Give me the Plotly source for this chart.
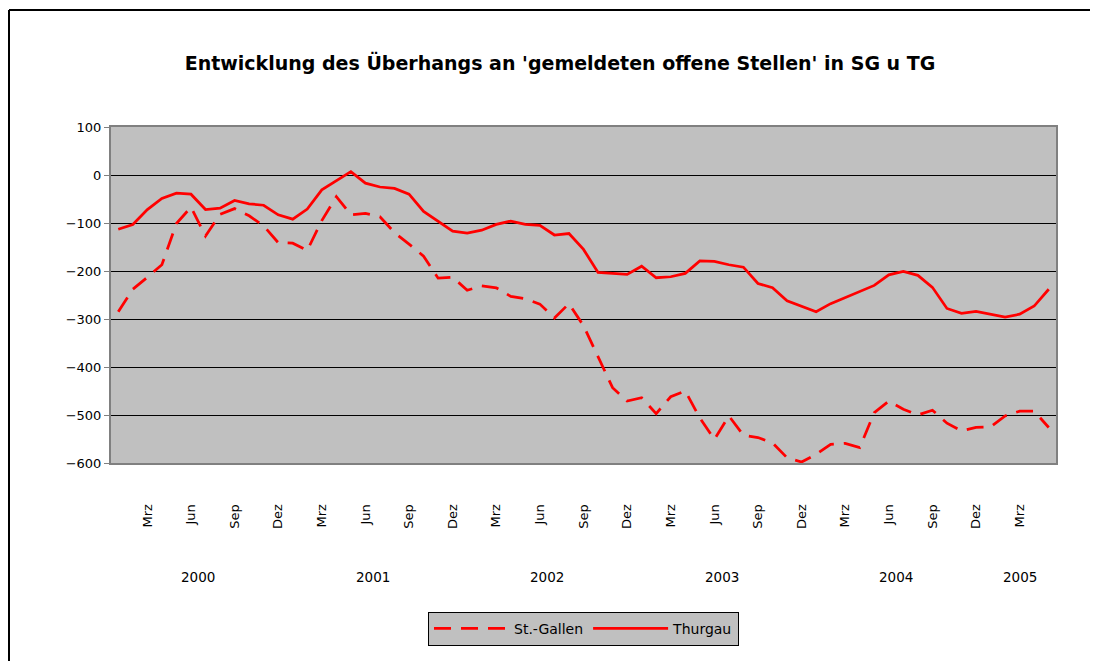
import plotly.graph_objects as go

# ---- data ----
years = [2000, 2001, 2002, 2003, 2004, 2005]
month_names = ["Jan", "Feb", "Mrz", "Apr", "Mai", "Jun", "Jul", "Aug", "Sep", "Okt", "Nov", "Dez"]
tick_months = ["Mrz", "Jun", "Sep", "Dez"]
n_months_last_year = 5

st_gallen = [-285, -238, -213, -187, -101, -67, -127, -82, -70, -85, -106, -141,
             -142, -157, -95, -45, -83, -80, -87, -120, -144, -169, -215, -213,
             -240, -231, -235, -253, -258, -269, -298, -268, -314, -377, -443, -471,
             -464, -497, -462, -450, -506, -551, -502, -542, -547, -558, -589, -598,
             -582, -561, -559, -568, -495, -471, -488, -500, -490, -517, -533, -526,
             -525, -502, -492, -492, -526]
thurgau = [-113, -103, -72, -49, -38, -40, -72, -69, -53, -60, -63, -83,
           -92, -71, -31, -12, 7, -17, -25, -28, -40, -76, -96, -117,
           -121, -115, -103, -96, -103, -105, -125, -122, -155, -203, -205, -207,
           -190, -214, -212, -205, -179, -180, -187, -192, -226, -235, -262, -273,
           -285, -268, -255, -243, -230, -208, -201, -209, -234, -278, -288, -284,
           -290, -296, -290, -273, -238]

# categories
cats, cat_month, cat_year = [], [], []
for y in years:
    nm = n_months_last_year if y == years[-1] else 12
    for m in month_names[:nm]:
        cats.append(f"{m} {y}")
        cat_month.append(m)
        cat_year.append(y)

RED = "#FF0000"
fig = go.Figure()
fig.add_trace(go.Scatter(x=cats, y=st_gallen, mode="lines", name="St.-Gallen",
                         line=dict(color=RED, width=2.75, dash="17px,10px")))
fig.add_trace(go.Scatter(x=cats, y=thurgau, mode="lines", name="Thurgau",
                         line=dict(color=RED, width=2.75)))

tickvals = [c for c, m in zip(cats, cat_month) if m in tick_months]
ticktext = [m for m in cat_month if m in tick_months]

FONT = "DejaVu Sans"
W, H = 1090, 653          # page body has an 8px margin
L, T = 103, 119
PW, PH = 945, 336

fig.update_xaxes(type="category", categoryorder="array", categoryarray=cats,
                 range=[-0.5, len(cats) - 0.5],
                 tickmode="array", tickvals=tickvals, ticktext=ticktext,
                 tickangle=-90, ticks="", ticklabelstandoff=34,
                 tickfont=dict(family=FONT, size=13, color="black"),
                 showgrid=False, showline=True, linecolor="#808080", linewidth=2,
                 mirror=True, zeroline=False)
fig.update_yaxes(range=[-600, 100], dtick=100, tick0=0,
                 ticks="outside", ticklen=5, tickcolor="#808080", tickwidth=1,
                 tickfont=dict(family=FONT, size=13, color="black"),
                 showgrid=True, gridcolor="black", gridwidth=1,
                 showline=True, linecolor="#808080", linewidth=2, mirror=True,
                 zeroline=False)

# year labels under the month labels
annotations = []
for y in years:
    idx = [i for i, yy in enumerate(cat_year) if yy == y]
    center = (idx[0] + idx[-1]) / 2
    annotations.append(dict(x=center, xref="x", y=-0.339, yref="paper",
                            text=str(y), showarrow=False,
                            font=dict(family=FONT, size=13.5, color="black"),
                            xanchor="center", yanchor="middle"))

bx0 = (1 - L) / PW
bx1 = (W + 20 - L) / PW
by0 = (T + PH - (H + 20)) / PH
by1 = (T + PH - 2) / PH
border = dict(color="black", width=2)

fig.update_layout(
    width=W, height=H,
    margin=dict(l=L, r=W - L - PW, t=T, b=H - T - PH, autoexpand=False),
    paper_bgcolor="white", plot_bgcolor="#C0C0C0",
    title=dict(text="<b>Entwicklung des Überhangs an 'gemeldeten offene Stellen' in SG u TG</b>",
               x=552 / W, xref="container", xanchor="center",
               y=1 - 55 / H, yref="container", yanchor="middle",
               font=dict(family=FONT, size=19, color="black")),
    showlegend=True,
    legend=dict(orientation="h", x=0.5, xanchor="center", y=-0.443, yanchor="top",
                bgcolor="#C0C0C0", bordercolor="black", borderwidth=1,
                itemwidth=75, font=dict(family=FONT, size=14, color="black"),
                traceorder="normal"),
    annotations=annotations,
    shapes=[dict(type="line", xref="paper", yref="paper",
                 x0=bx0, x1=bx1, y0=by1, y1=by1, line=border, layer="below"),
            dict(type="line", xref="paper", yref="paper",
                 x0=bx0, x1=bx0, y0=by0, y1=by1, line=border, layer="below")],
)

fig.write_html("out.html")
